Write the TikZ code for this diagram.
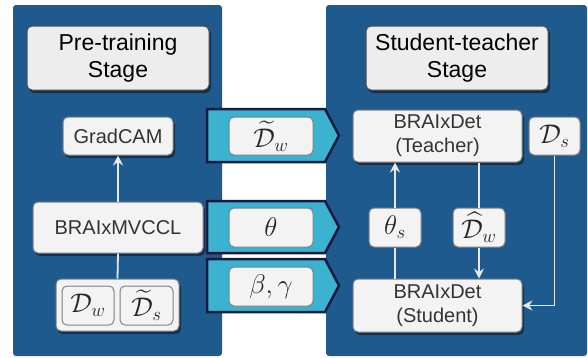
\documentclass[tikz,border=0pt]{standalone}
\usepackage{fontspec}
\setmainfont{Liberation Sans}
\usepackage{amsmath}
\usepackage{graphicx}
\usepackage{xcolor}
\usepackage{tikz}
\usetikzlibrary{calc, shadows, arrows, arrows.meta}
\definecolor{panelblue}{HTML}{1F5A8F}
\definecolor{chevcyan}{HTML}{3BB2D0}
\definecolor{chevline}{HTML}{1A1A40}
\definecolor{boxfill}{HTML}{F3F3F3}
\definecolor{boxline}{HTML}{808080}
\definecolor{flowline}{HTML}{E8E8E8}
\newcommand{\symsize}[1]{\scalebox{1.3}{$#1$}}
\tikzstyle{panel}    = [fill=panelblue, rounded corners=3pt]
\tikzstyle{titlebox} = [draw=black!70, fill=black!7, rounded corners=5pt, line width=1pt,
                        align=center, font=\fontsize{23}{27}\selectfont,
                        drop shadow={shadow xshift=2pt, shadow yshift=-3pt, fill=black, opacity=.45}]
\tikzstyle{block}    = [draw=boxline, fill=boxfill, rounded corners=5pt, line width=1pt,
                        align=center, text=black!80, font=\fontsize{20}{24}\selectfont,
                        inner sep=0pt]
\tikzstyle{mblock}   = [block, text=black!85]
\tikzstyle{sblock}   = [block, drop shadow={shadow xshift=2pt, shadow yshift=-3pt, fill=black, opacity=.45}]
\tikzstyle{chevron}  = [fill=chevcyan, draw=chevline, line width=2.5pt, line join=miter]
\tikzstyle{arrow}    = [flowline, line width=1.8pt, -{Stealth[length=10pt, width=10pt, inset=3.5pt]}]
\tikzstyle{link}     = [flowline, line width=1.8pt]

\begin{document}
\begin{tikzpicture}[x=1pt, y=-1pt]
  \useasboundingbox (0,0) rectangle (588,357);

  % stage panels
  \fill[panel] (13,5) rectangle (222,356);
  \fill[panel] (326,5) rectangle (587,356);

  \node[titlebox, minimum width=182, minimum height=64] (pretitle) at (118,58) {Pre-training\\Stage};
  \node[titlebox, minimum width=182, minimum height=64] (sttitle) at (457,58) {Student-teacher\\Stage};

  % hand-over chevrons
  \draw[chevron] (207,109) -- (325,109) -- (339,135.5) -- (325,162) -- (207,162) -- cycle;
  \draw[chevron] (207,201) -- (325,201) -- (339,227) -- (325,253) -- (207,253) -- cycle;
  \draw[chevron] (207,259) -- (325,259) -- (339,285.5) -- (325,312) -- (207,312) -- cycle;

  \node[mblock, minimum width=84, minimum height=38] (dwt) at (271,136) {\symsize{\widetilde{\mathcal{D}}_w}};
  \node[mblock, minimum width=84, minimum height=39] (theta) at (271,227.5) {\symsize{\theta}};
  \node[mblock, minimum width=84, minimum height=39] (betagamma) at (271,286.5) {\symsize{\beta,\gamma}};

  % pre-training
  \node[sblock, minimum width=110, minimum height=38] (gradcam) at (118,136) {GradCAM};
  \node[sblock, minimum width=170, minimum height=51] (mvccl) at (118,227.5) {BRAIxMVCCL};
  \node[sblock, minimum width=123, minimum height=52] (dpair) at (117.5,305) {};
  \node[mblock, minimum width=52, minimum height=39] (dw) at (88,305.5) {\symsize{\mathcal{D}_w}};
  \node[mblock, minimum width=53, minimum height=39] (dst) at (146.5,305.5) {\symsize{\widetilde{\mathcal{D}}_s}};

  \draw[link] (dpair.north) -- (mvccl.south);
  \draw[arrow] (mvccl.north) -- (gradcam.south);

  % student-teacher
  \node[sblock, minimum width=169, minimum height=52] (teacher) at (437.5,136) {BRAIxDet\\(Teacher)};
  \node[mblock, minimum width=51, minimum height=38] (ds) at (554.5,136) {\symsize{\mathcal{D}_s}};
  \node[mblock, minimum width=52, minimum height=39] (thetas) at (395,227.5) {\symsize{\theta_s}};
  \node[mblock, minimum width=52, minimum height=39] (dwh) at (479,227.5) {\symsize{\widehat{\mathcal{D}}_w}};
  \node[sblock, minimum width=169, minimum height=53] (student) at (437.5,305.5) {BRAIxDet\\(Student)};

  \draw[link] (student.north -| thetas) -- (thetas.south);
  \draw[arrow] (thetas.north) -- (teacher.south -| thetas);
  \draw[link] (teacher.south -| dwh) -- (dwh.north);
  \draw[arrow] (dwh.south) -- (student.north -| dwh);
  \draw[arrow] (ds.south) |- (student.east);
\end{tikzpicture}
\end{document}
